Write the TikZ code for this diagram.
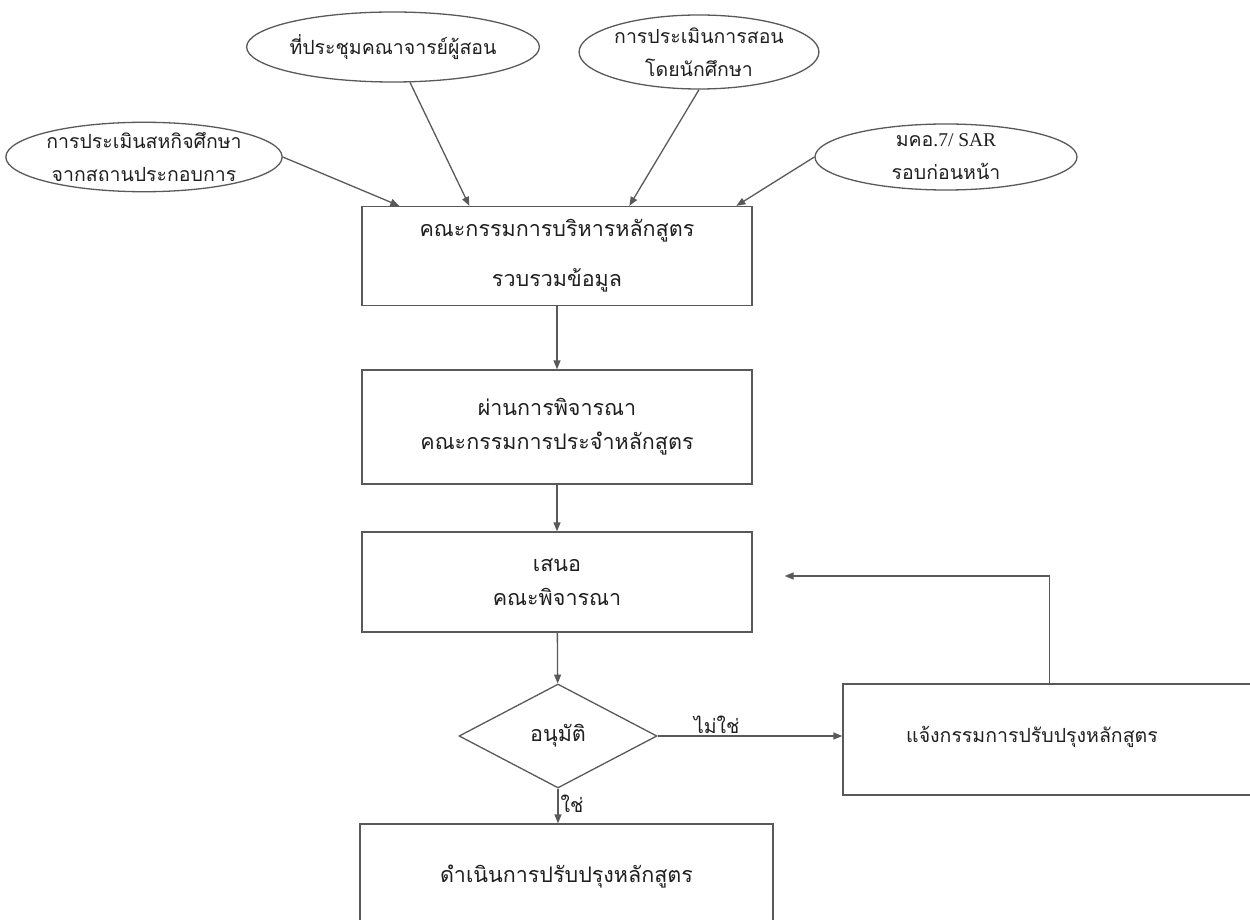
\documentclass[tikz,border=0pt]{standalone}
\usepackage{fontspec}
\newfontfamily\thai[Script=Thai]{Loma}
\newfontfamily\lat{Liberation Serif}
\usetikzlibrary{shapes.geometric,arrows.meta,calc}
\begin{document}
\begin{tikzpicture}[x=1pt,y=-1pt,
  every node/.style={font=\thai\fontsize{21.5}{34}\selectfont, text=black!88},
  small/.style={font=\thai\fontsize{19.5}{33}\selectfont},
  ln/.style={draw=black!65, line width=1.3pt},
  arr/.style={ln, -{Triangle[length=9pt,width=7pt]}},
  box/.style={draw=black!65, line width=1.3pt, rectangle, inner sep=0pt, align=center},
  ell/.style={draw=black!65, line width=1.3pt, ellipse, inner sep=0pt, align=center, small},
  dia/.style={draw=black!65, line width=1.3pt, diamond, inner sep=0pt, aspect=1.9, align=center},
  lbl/.style={inner sep=2pt, small},
]
\useasboundingbox (0,0) rectangle (1250,920);
\clip (0,0) rectangle (1250,920);

% ellipses
\node[ell, minimum width=265pt, minimum height=64pt] (e1) at (144,157) {การประเมินสหกิจศึกษา\\จากสถานประกอบการ};
\node[ell, minimum width=216pt, minimum height=70pt] (e2) at (393,47) {ที่ประชุมคณาจารย์ผู้สอน};
\node[ell, minimum width=222pt, minimum height=74pt] (e3) at (699,52) {การประเมินการสอน\\โดยนักศึกษา};
\node[ell, minimum width=262pt, minimum height=66pt] (e4) at (946,157) {มคอ{\lat .7/ SAR}\\รอบก่อนหน้า};

% boxes
\node[box, minimum width=390pt, minimum height=99pt] (b1) at (557,256) {คณะกรรมการบริหารหลักสูตร\\[16pt]รวบรวมข้อมูล};
\node[box, minimum width=390pt, minimum height=114pt] (b2) at (557,427) {ผ่านการพิจารณา\\คณะกรรมการประจำหลักสูตร};
\node[box, minimum width=390pt, minimum height=100pt] (b3) at (557,582) {เสนอ\\คณะพิจารณา};
\node[dia, minimum width=198pt, minimum height=104pt] (d) at (558,736) {อนุมัติ};
\node[box, minimum width=427pt, minimum height=111pt] (b4) at (1056.5,739.5) {};
\node[small] (t4) at (1032,737) {แจ้งกรรมการปรับปรุงหลักสูตร};
\node[box, minimum width=413pt, minimum height=106pt] (b5) at (566.5,877) {ดำเนินการปรับปรุงหลักสูตร};

% inputs
\draw[arr] (e1.east) -- ([xshift=38pt]b1.north west);
\draw[arr] (e2) -- ([xshift=108pt]b1.north west);
\draw[arr] (e3.south) -- ([xshift=268pt]b1.north west);
\draw[arr] (e4.west) -- ([xshift=375pt]b1.north west);

% flow
\draw[arr] (b1) -- (b2);
\draw[arr] (b2) -- (b3);
\draw[arr] (b3) -- (d);
\draw[arr] (d.east) -- node[lbl, pos=0.32, above] (no) {ไม่ใช่} (d.east -| b4.west);
\draw[arr] (d.south) -- node[lbl, pos=0.45, right] (yes) {ใช่} (d.south |- b5.north);
\coordinate (fb) at ([xshift=207pt]b4.north west);
\coordinate (fbend) at ([xshift=32pt,yshift=6pt]b3.east);
\draw[arr] (fb) |- (fbend);
\end{tikzpicture}
\end{document}
